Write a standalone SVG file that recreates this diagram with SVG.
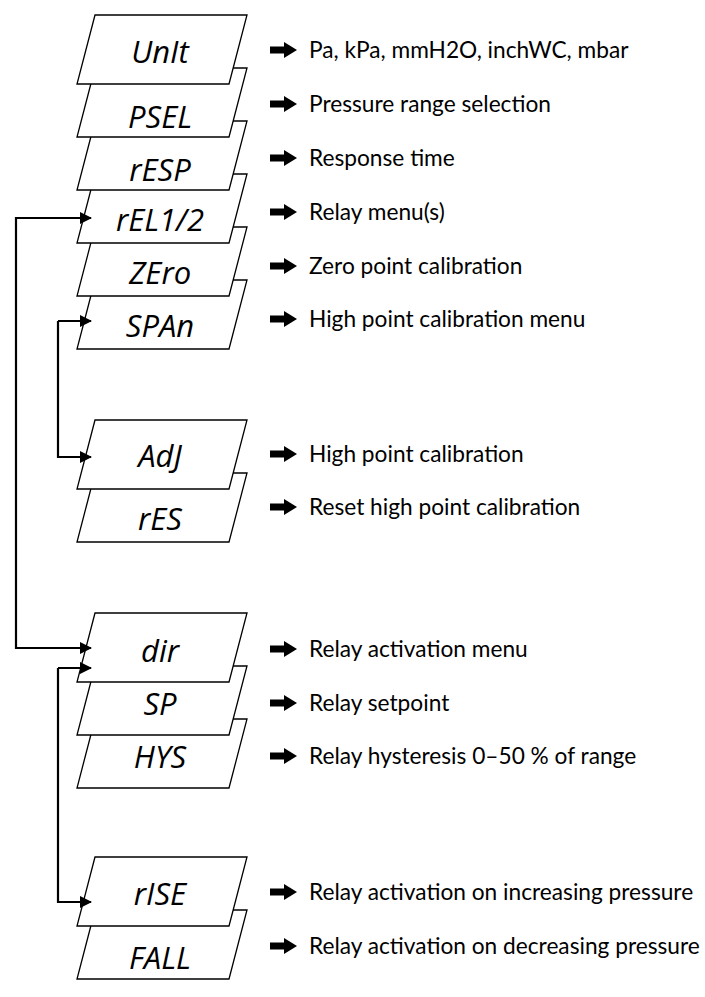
<svg xmlns="http://www.w3.org/2000/svg" width="705" height="997" viewBox="0 0 705 997">
<style>
.b{fill:#fff;stroke:#000;stroke-width:1.3}
.t{font-family:"Open Sans","DejaVu Sans",sans-serif;font-style:italic;font-size:31px;text-anchor:middle;fill:#000}
.l{font-family:Lato,"Noto Sans",sans-serif;font-size:22.7px;fill:#000}
.c{fill:none;stroke:#000;stroke-width:2.2}
</style>
<defs>
<marker id="ah" markerWidth="12" markerHeight="12" refX="11" refY="6" orient="auto" markerUnits="userSpaceOnUse"><path d="M0,0 L12,6 L0,12 Z" fill="#000"/></marker>
<path id="ra" d="M0,-3.5 H14 V-8 L27,0 L14,8 V3.5 H0 Z" fill="#000"/>
<path id="pg" d="M95,0 H247 L229,69 H77 Z"/>
</defs>
<g id="nodes">
<g id="n-FALL"><use href="#pg" class="b" y="910"/><text class="t" x="160" y="969">FALL</text></g>
<g id="n-rISE"><use href="#pg" class="b" y="857"/><text class="t" x="160" y="905">rISE</text></g>
<g id="n-HYS"><use href="#pg" class="b" y="719"/><text class="t" x="160" y="768">HYS</text></g>
<g id="n-SP"><use href="#pg" class="b" y="666"/><text class="t" x="160" y="715">SP</text></g>
<g id="n-dir"><use href="#pg" class="b" y="613"/><text class="t" x="160" y="662">dir</text></g>
<g id="n-rES"><use href="#pg" class="b" y="473"/><text class="t" x="160" y="530">rES</text></g>
<g id="n-AdJ"><use href="#pg" class="b" y="420"/><text class="t" x="160" y="467">AdJ</text></g>
<g id="n-SPAn"><use href="#pg" class="b" y="280"/><text class="t" x="160" y="337">SPAn</text></g>
<g id="n-ZEro"><use href="#pg" class="b" y="227"/><text class="t" x="160" y="284">ZEro</text></g>
<g id="n-rEL"><use href="#pg" class="b" y="174"/><text class="t" x="160" y="231">rEL1/2</text></g>
<g id="n-rESP"><use href="#pg" class="b" y="121"/><text class="t" x="160" y="181">rESP</text></g>
<g id="n-PSEL"><use href="#pg" class="b" y="68"/><text class="t" x="160" y="128">PSEL</text></g>
<g id="n-Unit"><use href="#pg" class="b" y="15"/><text class="t" x="160" y="63">UnIt</text></g>
</g>
<g id="connectors">
<path class="c" d="M91,218 H16 V648 H91" marker-end="url(#ah)"/>
<path class="c" d="M16,218 H91" marker-end="url(#ah)"/>
<path class="c" d="M58,321 V457 H91" marker-end="url(#ah)"/>
<path class="c" d="M58,321 H91" marker-end="url(#ah)"/>
<path class="c" d="M58,668 V902 H91" marker-end="url(#ah)"/>
<path class="c" d="M58,668 H91" marker-end="url(#ah)"/>
</g>
<g id="labels">
<use href="#ra" x="270" y="50"/><text class="l" x="309" y="58">Pa, kPa, mmH2O, inchWC, mbar</text>
<use href="#ra" x="270" y="104"/><text class="l" x="309" y="112">Pressure range selection</text>
<use href="#ra" x="270" y="158"/><text class="l" x="309" y="166">Response time</text>
<use href="#ra" x="270" y="212"/><text class="l" x="309" y="220">Relay menu(s)</text>
<use href="#ra" x="270" y="266"/><text class="l" x="309" y="274">Zero point calibration</text>
<use href="#ra" x="270" y="319"/><text class="l" x="309" y="327">High point calibration menu</text>
<use href="#ra" x="270" y="454"/><text class="l" x="309" y="462">High point calibration</text>
<use href="#ra" x="270" y="507"/><text class="l" x="309" y="515">Reset high point calibration</text>
<use href="#ra" x="270" y="649"/><text class="l" x="309" y="657">Relay activation menu</text>
<use href="#ra" x="270" y="703"/><text class="l" x="309" y="711">Relay setpoint</text>
<use href="#ra" x="270" y="756"/><text class="l" x="309" y="764">Relay hysteresis 0–50 % of range</text>
<use href="#ra" x="270" y="892"/><text class="l" x="309" y="900">Relay activation on increasing pressure</text>
<use href="#ra" x="270" y="946"/><text class="l" x="309" y="954">Relay activation on decreasing pressure</text>
</g>
</svg>
